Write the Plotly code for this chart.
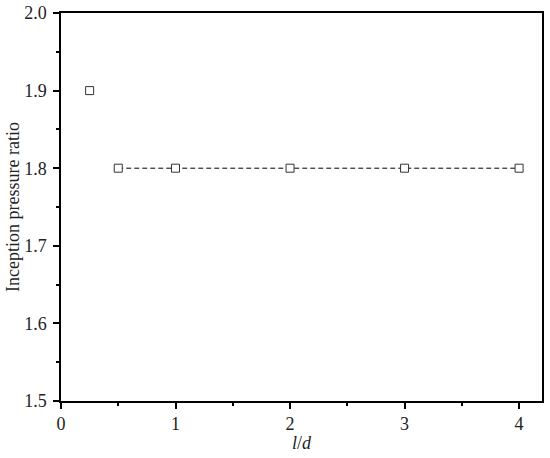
import plotly.graph_objects as go

# data
ld_first = [0.25]
ratio_first = [1.9]
ld_rest = [0.5, 1, 2, 3, 4]
ratio_rest = [1.8, 1.8, 1.8, 1.8, 1.8]

fig = go.Figure()

# dashed connector for the plateau points
fig.add_trace(go.Scatter(
    x=ld_rest, y=ratio_rest,
    mode="lines",
    line=dict(color="black", width=1, dash="5px,3px"),
    showlegend=False,
))
fig.add_trace(go.Scatter(
    x=ld_first + ld_rest, y=ratio_first + ratio_rest,
    mode="markers",
    marker=dict(symbol="square", size=8, color="white",
                line=dict(width=1, color="#333333")),
    showlegend=False,
))

axis_common = dict(
    showline=True, linecolor="black", linewidth=1.5, mirror=True,
    showgrid=False, zeroline=False, automargin=False,
    ticks="outside", ticklen=6, tickwidth=1.5, tickcolor="black",
    ticklabeloverflow="allow",
    tickfont=dict(family="Liberation Serif, Times New Roman, serif", size=18, color="#222222"),
)

fig.update_layout(
    width=550, height=458,
    margin=dict(l=61, r=8, t=13, b=57),
    paper_bgcolor="white",
    plot_bgcolor="white",
    font=dict(family="Liberation Serif, Times New Roman, serif", color="#222222"),
    xaxis=dict(
        range=[0, 4.2], tickvals=[0, 1, 2, 3, 4],
        minor=dict(tickvals=[0.5, 1.5, 2.5, 3.5], ticks="outside", ticklen=3,
                   tickwidth=1.5, tickcolor="black"),
        **axis_common,
    ),
    yaxis=dict(
        range=[1.5, 2.0], tickvals=[1.5, 1.6, 1.7, 1.8, 1.9, 2.0],
        ticktext=["1.5", "1.6", "1.7", "1.8", "1.9", "2.0"],
        ticklabelstandoff=3,
        minor=dict(tickvals=[1.55, 1.65, 1.75, 1.85, 1.95], ticks="outside", ticklen=3,
                   tickwidth=1.5, tickcolor="black"),
        title=dict(text="Inception pressure ratio", font=dict(size=18), standoff=0),
        **axis_common,
    ),
    annotations=[dict(
        text="<i>l</i>/<i>d</i>", xref="paper", yref="paper", x=0.5, y=0,
        xanchor="center", yanchor="top", yshift=-30, showarrow=False,
        font=dict(size=18, family="Liberation Serif, Times New Roman, serif", color="#222222"),
    )],
)

# drop the default 8px body margin so the figure fills the window
fig.write_html("out.html", config={"displayModeBar": False},
               post_script="document.body.style.margin='0';")
